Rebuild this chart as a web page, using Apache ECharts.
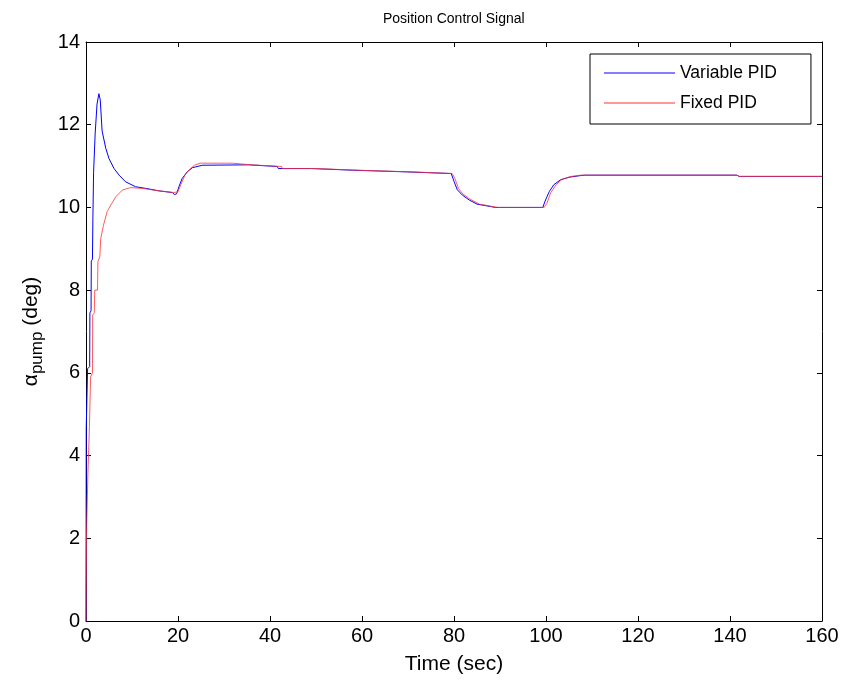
<!DOCTYPE html>
<html>
<head>
<meta charset="utf-8">
<title>Position Control Signal</title>
<script src="https://cdn.jsdelivr.net/npm/echarts@6/dist/echarts.min.js"></script>
<style>
  html, body { margin: 0; padding: 0; background: #fff; }
  #chart { width: 845px; height: 687px; }
</style>
</head>
<body>
<div id="chart"></div>
<script>
// Pump swash-plate angle response: variable-gain PID vs fixed-gain PID
const variableT = [0, 0.05, 0.3, 0.35, 0.8, 0.85, 1.1, 1.15, 1.4, 1.5, 1.65, 2.0, 2.4, 2.8, 3.1, 3.5, 4.3, 5.0, 6.1, 7.2, 8.6, 10.8, 13, 15.9, 18.8, 19.2, 19.7, 20.2, 20.9, 22, 23.1, 25.3, 35.4, 35.6, 41.6, 41.8, 49, 49.2, 58, 58.2, 69.7, 69.9, 79.4, 80, 80.7, 81.8, 83.3, 85, 88, 89, 99.3, 99.9, 100.7, 101.7, 103.2, 105, 107.5, 108.5, 141.5, 142, 160];
const variableY = [0, 4.66, 4.7, 6.1, 6.15, 7.45, 7.5, 8.7, 8.75, 9.75, 10.85, 11.8, 12.5, 12.75, 12.6, 11.85, 11.43, 11.18, 10.94, 10.78, 10.62, 10.5, 10.46, 10.4, 10.36, 10.31, 10.33, 10.5, 10.7, 10.86, 10.96, 11.02, 11.03, 10.99, 10.99, 10.94, 10.94, 10.9, 10.9, 10.86, 10.86, 10.82, 10.82, 10.63, 10.43, 10.3, 10.18, 10.08, 10.02, 10.0, 10.0, 10.18, 10.38, 10.55, 10.67, 10.73, 10.77, 10.78, 10.78, 10.75, 10.75];

const fixedT = [0, 0.1, 0.35, 0.4, 0.7, 0.75, 0.95, 1.0, 1.4, 1.45, 1.8, 1.9, 2.5, 2.6, 3.0, 3.2, 3.8, 4.6, 5.4, 6.5, 7.9, 9.7, 12.2, 15.9, 19.1, 20.0, 20.6, 21.5, 22.5, 23.6, 24.8, 31.8, 32, 36, 36.2, 42.5, 42.7, 50, 50.2, 59, 59.2, 70.5, 70.7, 79.6, 80.2, 81, 82, 83.5, 85.5, 88.5, 89.5, 99.6, 100.2, 101, 102.2, 103.5, 105.5, 107.5, 141.5, 142, 160];
const fixedY = [0, 2.0, 2.0, 3.5, 3.5, 4.7, 4.7, 5.9, 6.0, 7.4, 7.45, 8.0, 8.0, 8.7, 8.8, 9.25, 9.57, 9.9, 10.06, 10.26, 10.42, 10.48, 10.46, 10.4, 10.36, 10.38, 10.55, 10.78, 10.92, 11.02, 11.07, 11.07, 11.03, 11.03, 10.99, 10.99, 10.94, 10.94, 10.9, 10.9, 10.86, 10.86, 10.82, 10.82, 10.7, 10.45, 10.32, 10.2, 10.08, 10.02, 10.0, 10.0, 10.1, 10.35, 10.55, 10.68, 10.75, 10.78, 10.78, 10.75, 10.75];

const seriesNames = ['Variable PID', 'Fixed PID'];
const seriesColors = ['#0000ff', '#ff3333'];
const xTicks = { min: 0, max: 160, step: 20 };
const yTicks = { min: 0, max: 14, step: 2 };

const FONT = '"Liberation Sans", Arial, Helvetica, sans-serif';
const pairs = (t, y) => t.map((v, i) => [v, y[i]]);

const chart = echarts.init(document.getElementById('chart'), null, { renderer: 'canvas' });

// Box frame: every axis keeps its own edge and draws short inward ticks
const frameAxis = {
  axisLine: { show: true, onZero: false, lineStyle: { color: '#000', width: 1 } },
  axisTick: { show: true, inside: true, length: 5, lineStyle: { color: '#000' } },
  splitLine: { show: false }
};

chart.setOption({
  animation: false,
  backgroundColor: '#fff',
  title: {
    text: 'Position Control Signal',
    left: 383,
    top: 12,
    padding: 0,
    textStyle: { fontFamily: FONT, fontSize: 14, fontWeight: 'normal', color: '#000' }
  },
  grid: { left: 86, right: 23, top: 42, bottom: 66, containLabel: false },
  legend: {
    data: seriesNames.map((n) => ({ name: n, icon: 'rect' })),
    orient: 'vertical',
    left: 590,
    top: 54,
    itemWidth: 71,
    itemHeight: 1,
    itemGap: 10,
    padding: [9, 34, 11, 14],
    borderColor: '#000',
    borderWidth: 1,
    borderRadius: 0,
    backgroundColor: '#fff',
    textStyle: { fontFamily: FONT, fontSize: 17.5, lineHeight: 20, color: '#000' }
  },
  xAxis: [
    Object.assign({}, frameAxis, {
      type: 'value', min: xTicks.min, max: xTicks.max, interval: xTicks.step,
      name: 'Time (sec)', nameLocation: 'middle', nameGap: 33,
      nameTextStyle: { fontFamily: FONT, fontSize: 21, color: '#000' },
      axisLabel: { fontFamily: FONT, fontSize: 20, color: '#000', margin: 5 }
    }),
    Object.assign({}, frameAxis, {
      type: 'value', position: 'top', min: xTicks.min, max: xTicks.max, interval: xTicks.step,
      axisLabel: { show: false }
    })
  ],
  yAxis: [
    Object.assign({}, frameAxis, {
      type: 'value', min: yTicks.min, max: yTicks.max, interval: yTicks.step,
      name: '{a|α}{s|pump}{a| (deg)}', nameLocation: 'middle', nameRotate: 90, nameGap: 40,
      nameTextStyle: {
        fontFamily: FONT, fontSize: 21, color: '#000',
        rich: {
          a: { fontFamily: FONT, fontSize: 21, color: '#000', lineHeight: 30, verticalAlign: 'middle' },
          s: { fontFamily: FONT, fontSize: 17, color: '#000', lineHeight: 17, verticalAlign: 'bottom' }
        }
      },
      axisLabel: { fontFamily: FONT, fontSize: 20, color: '#000', margin: 6 }
    }),
    Object.assign({}, frameAxis, {
      type: 'value', position: 'right', min: yTicks.min, max: yTicks.max, interval: yTicks.step,
      axisLabel: { show: false }
    })
  ],
  series: [
    {
      name: seriesNames[0], type: 'line', data: pairs(variableT, variableY),
      symbol: 'none', lineStyle: { color: seriesColors[0], width: 1 }, itemStyle: { color: seriesColors[0] },
      z: 3
    },
    {
      name: seriesNames[1], type: 'line', data: pairs(fixedT, fixedY),
      symbol: 'none', lineStyle: { color: seriesColors[1], width: 1, opacity: 0.8 }, itemStyle: { color: seriesColors[1] },
      z: 4
    }
  ]
});
</script>
</body>
</html>
